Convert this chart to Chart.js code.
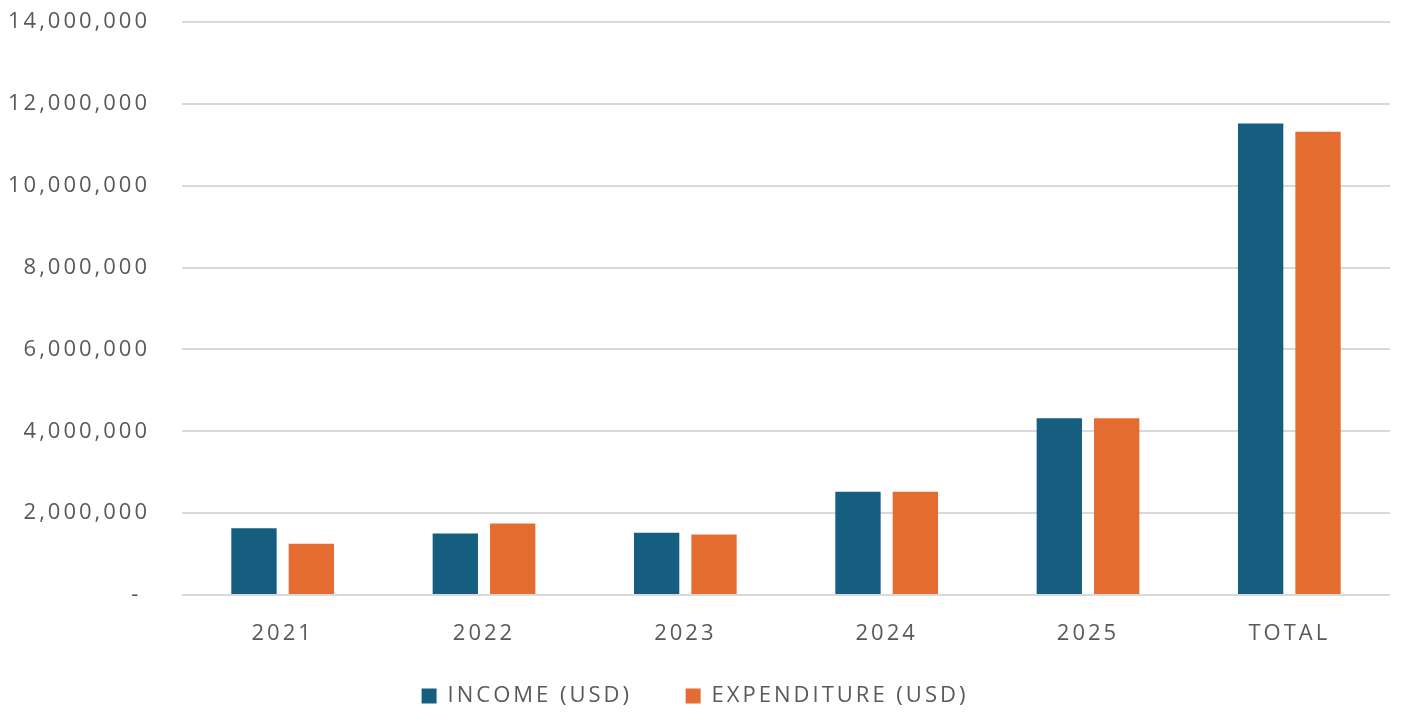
<!DOCTYPE html>
<html>
<head>
<meta charset="utf-8">
<script src="https://cdn.jsdelivr.net/npm/chart.js@4.4.1/dist/chart.umd.min.js"></script>
<style>
html,body{margin:0;padding:0;background:#fff;overflow:hidden;}
canvas{display:block;}
</style>
</head>
<body>
<canvas id="c" width="1403" height="717"></canvas>
<script>
const categories = ['2021', '2022', '2023', '2024', '2025', 'TOTAL'];
const incomeValues = [1630000, 1500000, 1520000, 2520000, 4320000, 11520000];
const expenditureValues = [1250000, 1750000, 1480000, 2520000, 4320000, 11320000];
const seriesNames = ['INCOME (USD)', 'EXPENDITURE (USD)'];
const yTicks = [0, 2000000, 4000000, 6000000, 8000000, 10000000, 12000000, 14000000];

const FONT = {family: '"Open Sans", sans-serif', size: 22};
const TEXT = '#595959';
const LS = '3px';

const spacingPlugin = {
  id: 'spacing',
  beforeInit(chart){ chart.ctx.letterSpacing = LS; },
  beforeUpdate(chart){ chart.ctx.letterSpacing = LS; },
  beforeLayout(chart){ chart.ctx.letterSpacing = LS; },
  beforeDraw(chart){ chart.ctx.letterSpacing = LS; }
};

new Chart(document.getElementById('c'), {
  type: 'bar',
  plugins: [spacingPlugin],
  data: {
    labels: categories,
    datasets: [
      {label: seriesNames[0], data: incomeValues, backgroundColor: '#165E80', categoryPercentage: 0.57, barPercentage: 0.79},
      {label: seriesNames[1], data: expenditureValues, backgroundColor: '#E46C31', categoryPercentage: 0.57, barPercentage: 0.79}
    ]
  },
  options: {
    responsive: false,
    animation: false,
    layout: {padding: {top: 22, right: 13, bottom: 0, left: 0}},
    plugins: {
      legend: {
        position: 'bottom',
        labels: {
          font: FONT, color: TEXT, boxWidth: 15, boxHeight: 15, padding: 10,
          generateLabels(chart){
            const items = Chart.defaults.plugins.legend.labels.generateLabels(chart);
            items.forEach((it, i) => { if (i < items.length - 1) it.text = it.text + '     '; });
            return items;
          }
        }
      },
      tooltip: {enabled: false}
    },
    scales: {
      x: {
        grid: {display: false},
        border: {display: false},
        ticks: {font: FONT, color: TEXT, padding: 18},
        afterFit(scale){ scale.height = 80; }
      },
      y: {
        min: 0, max: 14000000,
        afterBuildTicks(scale){ scale.ticks = yTicks.map(v => ({value: v})); },
        afterFit(scale){ scale.width = 182; scale.paddingTop = 0; scale.paddingBottom = 0; },
        grid: {color: '#d9d9d9', lineWidth: 2, drawTicks: false},
        border: {display: false},
        ticks: {
          font: FONT, color: TEXT, padding: 32,
          callback: v => v === 0 ? '- ' : v.toLocaleString('en-US')
        }
      }
    }
  }
});
</script>
</body>
</html>
